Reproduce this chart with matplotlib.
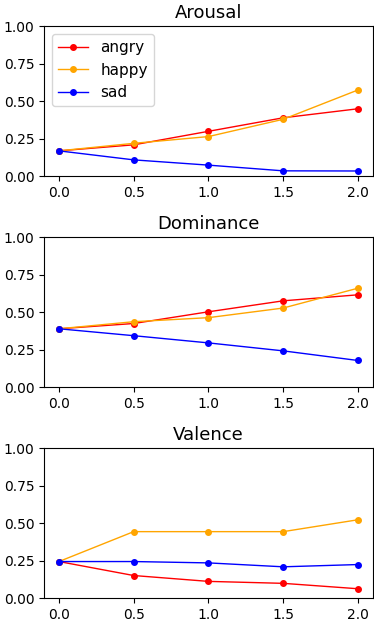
import matplotlib
matplotlib.use("Agg")
import matplotlib.pyplot as plt

x = [0.0, 0.5, 1.0, 1.5, 2.0]
titles = ["Arousal", "Dominance", "Valence"]
labels = ["angry", "happy", "sad"]
colors = ["red", "orange", "blue"]

arousal_angry = [0.17, 0.21, 0.30, 0.39, 0.45]
arousal_happy = [0.17, 0.22, 0.265, 0.38, 0.575]
arousal_sad = [0.17, 0.11, 0.075, 0.037, 0.036]

dominance_angry = [0.39, 0.425, 0.503, 0.576, 0.616]
dominance_happy = [0.39, 0.437, 0.464, 0.528, 0.660]
dominance_sad = [0.39, 0.344, 0.296, 0.243, 0.179]

valence_angry = [0.245, 0.152, 0.113, 0.10, 0.064]
valence_happy = [0.245, 0.444, 0.444, 0.444, 0.523]
valence_sad = [0.245, 0.245, 0.236, 0.21, 0.225]

data = [
    [arousal_angry, arousal_happy, arousal_sad],
    [dominance_angry, dominance_happy, dominance_sad],
    [valence_angry, valence_happy, valence_sad],
]

fig, axes = plt.subplots(3, 1, figsize=(3.74, 6.22), dpi=100)
fig.subplots_adjust(left=0.1176, right=0.997, bottom=0.038, top=0.958, hspace=0.404)

for ax, title, series in zip(axes, titles, data):
    for vals, lab, col in zip(series, labels, colors):
        ax.plot(x, vals, color=col, marker="o", markersize=4, linewidth=1, label=lab)
    ax.set_title(title, fontsize=13)
    ax.set_ylim(0, 1)
    ax.set_yticks([0.0, 0.25, 0.5, 0.75, 1.0])
    ax.set_xticks([0.0, 0.5, 1.0, 1.5, 2.0])

axes[0].legend(loc="upper left", fontsize=11)

fig.savefig("out.png", dpi=100)
